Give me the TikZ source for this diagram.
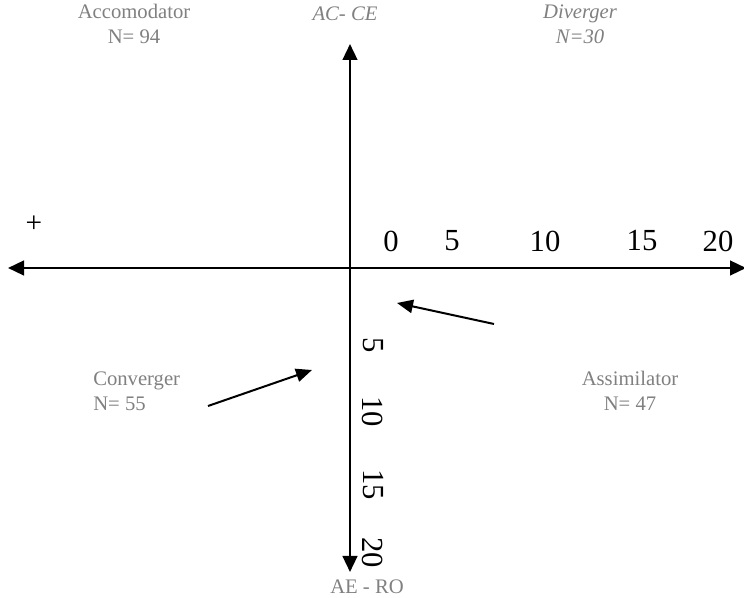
\documentclass[tikz,border=0pt]{standalone}
\usepackage{fontspec}
\setmainfont{Liberation Serif}
\usetikzlibrary{arrows.meta}
\begin{document}
\begin{tikzpicture}[x=0.75pt,y=-0.75pt,
  axishead/.style={line width=1.8pt,{Triangle[length=12pt,width=11pt]}-{Triangle[length=12pt,width=11pt]}},
  pointer/.style={line width=1.5pt,-{Triangle[length=12pt,width=10pt]}},
  glabel/.style={text=gray,font=\fontsize{15.5}{18.5}\selectfont,align=center,inner sep=0pt},
  gitlabel/.style={glabel,font=\itshape\fontsize{15.5}{18.5}\selectfont},
  tick/.style={font=\fontsize{23}{25}\selectfont,inner sep=0pt},
  vtick/.style={tick,rotate=-90}]
\useasboundingbox (0,0) rectangle (744,598);
\coordinate (vtop) at (350,44);
\coordinate (vbot) at (350,572);
\coordinate (hleft) at (8,268);
\coordinate (hright) at (746,268);
\draw[axishead] (hleft) -- (hright);
\draw[axishead] (vtop) -- (vbot);
\node[glabel] (acc) at (134,24) {Accomodator\\N= 94};
\node[gitlabel] (div) at (580,24) {Diverger\\N=30};
\node[gitlabel] (acce) at (345,14) {AC- CE};
\node[glabel,align=left,anchor=west] (conv) at (93,391) {Converger\\N= 55};
\node[glabel] (assim) at (630,391) {Assimilator\\N= 47};
\node[glabel] (aero) at (367,587) {AE - RO};
\node[font=\fontsize{22}{24}\selectfont,inner sep=0pt] (plus) at (34,224) {+};
\node[tick] (h0) at (391,241) {0};
\node[tick] (h5) at (452,241) {5};
\node[tick] (h10) at (545,241) {10};
\node[tick] (h15) at (642,241) {15};
\node[tick] (h20) at (718,241) {20};
\node[vtick] (v5) at (373,345) {5};
\node[vtick] (v10) at (373,412) {10};
\node[vtick] (v15) at (373,485) {15};
\node[vtick] (v20) at (373,553) {20};
\coordinate (p1s) at (494,324);
\coordinate (p1e) at (397,303);
\coordinate (p2s) at (208,406);
\coordinate (p2e) at (312,370);
\draw[pointer] (p1s) -- (p1e);
\draw[pointer] (p2s) -- (p2e);
\end{tikzpicture}
\end{document}
